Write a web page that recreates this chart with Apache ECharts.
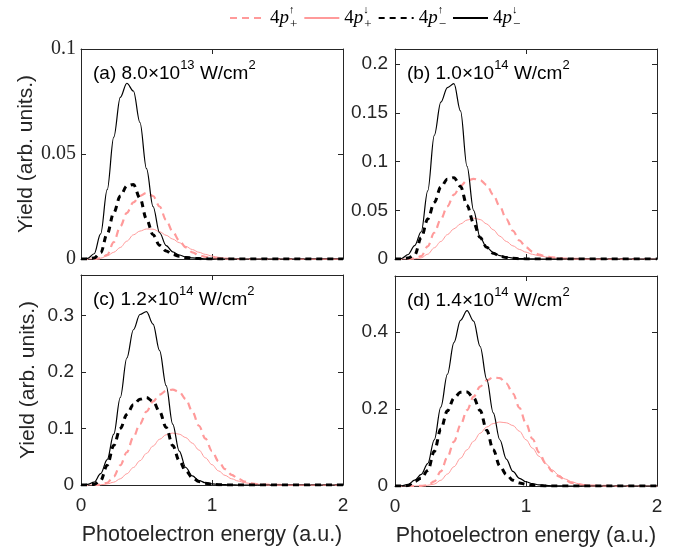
<!DOCTYPE html>
<html>
<head>
<meta charset="utf-8">
<script src="https://cdn.jsdelivr.net/npm/echarts@6/dist/echarts.min.js"></script>
<style>
  html, body { margin: 0; padding: 0; background: #fff; }
  #chart { width: 682px; height: 552px; }
</style>
</head>
<body>
<div id="chart"></div>
<script>
// photoelectron energy grid (a.u.)
const energy = [
  0, 0.05, 0.1, 0.15, 0.2, 0.25, 0.3, 0.35, 0.4, 0.45,
  0.5, 0.55, 0.6, 0.65, 0.7, 0.75, 0.8, 0.85, 0.9, 0.95,
  1.0, 1.05, 1.1, 1.15, 1.2, 1.25, 1.3, 1.35, 1.4, 1.45,
  1.5, 1.55, 1.6, 1.65, 1.7, 1.75, 1.8, 1.85, 1.9, 1.95,
  2.0
];

// (a) 8.0e13 W/cm2
const aUpPlus = [
  0, 0, 0, 0.0003, 0.002, 0.008, 0.0155, 0.022, 0.027, 0.030,
  0.0315, 0.030, 0.025, 0.0185, 0.013, 0.0088, 0.0055, 0.0032, 0.0018, 0.001,
  0.0005, 0.0003, 0.0001, 0, 0, 0, 0, 0, 0, 0,
  0, 0, 0, 0, 0, 0, 0, 0, 0, 0,
  0
];
const aDownPlus = [
  0, 0, 0.0001, 0.0004, 0.0015, 0.0032, 0.0055, 0.0085, 0.0115, 0.0133,
  0.0143, 0.0142, 0.013, 0.0113, 0.0095, 0.0078, 0.006, 0.0045, 0.0032, 0.0022,
  0.0014, 0.0008, 0.0004, 0.0002, 0.0001, 0, 0, 0, 0, 0,
  0, 0, 0, 0, 0, 0, 0, 0, 0, 0,
  0
];
const aUpMinus = [
  0, 0, 0.0005, 0.003, 0.012, 0.022, 0.030, 0.0348, 0.0355, 0.029,
  0.019, 0.0115, 0.0065, 0.0038, 0.0022, 0.0013, 0.0007, 0.0004, 0.0002, 0.0001,
  0, 0, 0, 0, 0, 0, 0, 0, 0, 0,
  0, 0, 0, 0, 0, 0, 0, 0, 0, 0,
  0
];
const aDownMinus = [
  0, 0.0003, 0.0025, 0.012, 0.033, 0.058, 0.077, 0.0837, 0.080, 0.065,
  0.043, 0.025, 0.0125, 0.0064, 0.0034, 0.0019, 0.001, 0.0005, 0.0003, 0.0001,
  0, 0, 0, 0, 0, 0, 0, 0, 0, 0,
  0, 0, 0, 0, 0, 0, 0, 0, 0, 0,
  0
];

// (b) 1.0e14 W/cm2
const bUpPlus = [
  0, 0, 0, 0.0005, 0.003, 0.013, 0.027, 0.041, 0.054, 0.066,
  0.075, 0.0805, 0.0823, 0.081, 0.076, 0.066, 0.054, 0.041, 0.029, 0.019,
  0.012, 0.0075, 0.0045, 0.0028, 0.0017, 0.001, 0.0005, 0.0002, 0.0001, 0,
  0, 0, 0, 0, 0, 0, 0, 0, 0, 0,
  0
];
const bDownPlus = [
  0, 0, 0, 0.0002, 0.0012, 0.005, 0.0115, 0.018, 0.025, 0.031,
  0.036, 0.040, 0.042, 0.0405, 0.036, 0.030, 0.0235, 0.018, 0.0135, 0.0098,
  0.007, 0.0048, 0.0033, 0.0021, 0.0013, 0.0008, 0.0004, 0.0002, 0.0001, 0,
  0, 0, 0, 0, 0, 0, 0, 0, 0, 0,
  0
];
const bUpMinus = [
  0, 0, 0.001, 0.004, 0.022, 0.041, 0.058, 0.0738, 0.082, 0.0835,
  0.0745, 0.055, 0.037, 0.022, 0.012, 0.006, 0.003, 0.0015, 0.0007, 0.0003,
  0.0001, 0, 0, 0, 0, 0, 0, 0, 0, 0,
  0, 0, 0, 0, 0, 0, 0, 0, 0, 0,
  0
];
const bDownMinus = [
  0, 0.0005, 0.0046, 0.0138, 0.028, 0.07, 0.127, 0.161, 0.176, 0.180,
  0.152, 0.095, 0.050, 0.022, 0.012, 0.0065, 0.0035, 0.002, 0.001, 0.0005,
  0.0002, 0.0001, 0, 0, 0, 0, 0, 0, 0, 0,
  0, 0, 0, 0, 0, 0, 0, 0, 0, 0,
  0
];

// (c) 1.2e14 W/cm2
const cUpPlus = [
  0, 0, 0, 0.0005, 0.004, 0.015, 0.035, 0.058, 0.085, 0.108,
  0.13, 0.148, 0.160, 0.167, 0.169, 0.165, 0.152, 0.130, 0.105, 0.082,
  0.060, 0.042, 0.028, 0.018, 0.011, 0.006, 0.003, 0.0015, 0.0007, 0.0003,
  0.0001, 0, 0, 0, 0, 0, 0, 0, 0, 0,
  0
];
const cDownPlus = [
  0, 0, 0, 0.0003, 0.002, 0.005, 0.011, 0.02, 0.031, 0.043,
  0.056, 0.069, 0.081, 0.089, 0.092, 0.090, 0.084, 0.074, 0.062, 0.048,
  0.036, 0.025, 0.017, 0.011, 0.007, 0.004, 0.0025, 0.0015, 0.0008, 0.0004,
  0.0002, 0.0001, 0, 0, 0, 0, 0, 0, 0, 0,
  0
];
const cUpMinus = [
  0, 0, 0.001, 0.008, 0.035, 0.07, 0.10, 0.125, 0.142, 0.152,
  0.155, 0.148, 0.13, 0.102, 0.07, 0.043, 0.025, 0.013, 0.006, 0.003,
  0.0012, 0.0005, 0.0002, 0, 0, 0, 0, 0, 0, 0,
  0, 0, 0, 0, 0, 0, 0, 0, 0, 0,
  0
];
const cDownMinus = [
  0, 0.001, 0.005, 0.02, 0.045, 0.09, 0.155, 0.225, 0.275, 0.302,
  0.307, 0.285, 0.238, 0.176, 0.108, 0.06, 0.031, 0.016, 0.008, 0.004,
  0.002, 0.001, 0.0005, 0.0002, 0, 0, 0, 0, 0, 0,
  0, 0, 0, 0, 0, 0, 0, 0, 0, 0,
  0
];

// (d) 1.4e14 W/cm2
const dUpPlus = [
  0, 0, 0, 0, 0.0005, 0.002, 0.012, 0.038, 0.075, 0.115,
  0.158, 0.197, 0.232, 0.258, 0.274, 0.282, 0.28, 0.266, 0.24, 0.203,
  0.162, 0.122, 0.087, 0.059, 0.038, 0.025, 0.015, 0.008, 0.004, 0.002,
  0.001, 0.0005, 0.0002, 0, 0, 0, 0, 0, 0, 0,
  0
];
const dDownPlus = [
  0, 0, 0, 0, 0.0005, 0.002, 0.005, 0.015, 0.031, 0.05,
  0.072, 0.094, 0.116, 0.137, 0.153, 0.162, 0.166, 0.164, 0.157, 0.142,
  0.12, 0.098, 0.077, 0.058, 0.042, 0.028, 0.018, 0.011, 0.006, 0.003,
  0.0015, 0.0007, 0.0003, 0, 0, 0, 0, 0, 0, 0,
  0
];
const dUpMinus = [
  0, 0, 0.001, 0.012, 0.02, 0.04, 0.09, 0.148, 0.195, 0.228,
  0.243, 0.244, 0.229, 0.196, 0.145, 0.094, 0.052, 0.03, 0.015, 0.008,
  0.004, 0.002, 0.001, 0, 0, 0, 0, 0, 0, 0,
  0, 0, 0, 0, 0, 0, 0, 0, 0, 0,
  0
];
const dDownMinus = [
  0, 0.0005, 0.004, 0.015, 0.03, 0.058, 0.12, 0.205, 0.29, 0.372,
  0.43, 0.455, 0.428, 0.362, 0.277, 0.19, 0.12, 0.07, 0.038, 0.02,
  0.011, 0.006, 0.003, 0.0015, 0.0007, 0.0003, 0, 0, 0, 0,
  0, 0, 0, 0, 0, 0, 0, 0, 0, 0,
  0
];

const panelLabels = ["(a) 8.0×10", "(b) 1.0×10", "(c) 1.2×10", "(d) 1.4×10"];
const panelExponents = ["13", "14", "14", "14"];
const yMax = [0.1, 0.2156, 0.372, 0.545];
const yStep = [0.05, 0.05, 0.1, 0.2];

const seriesNames = ["upPlus", "downPlus", "upMinus", "downMinus"];
const panelData = [
  [aUpPlus, aDownPlus, aUpMinus, aDownMinus],
  [bUpPlus, bDownPlus, bUpMinus, bDownMinus],
  [cUpPlus, cDownPlus, cUpMinus, cDownMinus],
  [dUpPlus, dDownPlus, dUpMinus, dDownMinus]
];

const PINK = "#ff9a9a";
const INK = "#262626";
const SANS = "Liberation Sans";
const SERIF = "Liberation Serif";

// line look per curve
const lineStyles = {
  upPlus: { color: PINK, width: 2.2, type: [7, 5] },
  downPlus: { color: PINK, width: 1 },
  upMinus: { color: "#000", width: 3, type: [6, 5] },
  downMinus: { color: "#000", width: 1.2 }
};

const grids = [
  { left: 81, top: 49, width: 262, height: 210 },
  { left: 395, top: 49, width: 262, height: 210 },
  { left: 81, top: 275, width: 262, height: 210 },
  { left: 395, top: 276, width: 262, height: 210 }
];

const xAxes = [];
const yAxes = [];
const series = [];
const graphics = [];

grids.forEach((g, i) => {
  const bottomRow = i >= 2;
  const leftCol = i % 2 === 0;
  // bottom x axis
  xAxes.push({
    gridIndex: i, type: "value", min: 0, max: 2, interval: 1, position: "bottom",
    name: bottomRow ? "Photoelectron energy (a.u.)" : "",
    nameLocation: "middle", nameGap: 39,
    nameTextStyle: { fontFamily: SANS, fontSize: 21.5, color: INK },
    axisLine: { show: true, onZero: false, lineStyle: { color: INK, width: 1 } },
    axisTick: { show: true, inside: true, length: 5, lineStyle: { color: INK } },
    axisLabel: { show: bottomRow, fontFamily: SANS, fontSize: 19, color: INK, margin: 11 },
    splitLine: { show: false }
  });
  // top x axis (box)
  xAxes.push({
    gridIndex: i, type: "value", min: 0, max: 2, interval: 1, position: "top",
    axisLine: { show: true, onZero: false, lineStyle: { color: INK, width: 1 } },
    axisTick: { show: true, inside: true, length: 5, lineStyle: { color: INK } },
    axisLabel: { show: false },
    splitLine: { show: false }
  });
  // left y axis
  yAxes.push({
    gridIndex: i, type: "value", min: 0, max: yMax[i], interval: yStep[i], position: "left",
    name: leftCol ? "Yield (arb. units.)" : "",
    nameLocation: "middle", nameGap: 42, nameRotate: 90,
    nameTextStyle: { fontFamily: SANS, fontSize: 21, color: INK },
    axisLine: { show: true, onZero: false, lineStyle: { color: INK, width: 1 } },
    axisTick: { show: true, inside: true, length: 5, lineStyle: { color: INK } },
    axisLabel: {
      fontFamily: i === 0 ? SERIF : SANS, fontSize: i === 0 ? 20 : 19, color: INK,
      margin: i === 0 ? 5 : 7,
      showMaxLabel: i === 0
    },
    splitLine: { show: false }
  });
  // right y axis (box)
  yAxes.push({
    gridIndex: i, type: "value", min: 0, max: yMax[i], interval: yStep[i], position: "right",
    axisLine: { show: true, onZero: false, lineStyle: { color: INK, width: 1 } },
    axisTick: { show: true, inside: true, length: 5, lineStyle: { color: INK } },
    axisLabel: { show: false },
    splitLine: { show: false }
  });

  panelData[i].forEach((vals, k) => {
    const name = seriesNames[k];
    series.push({
      name: name, type: "line",
      xAxisIndex: 2 * i, yAxisIndex: 2 * i,
      data: energy.map((e, j) => [e, vals[j]]),
      symbol: "none", smooth: 0.35, smoothMonotone: "x",
      lineStyle: lineStyles[name],
      itemStyle: { color: lineStyles[name].color },
      z: 3 + k
    });
  });

  graphics.push({
    type: "text",
    left: g.left + 12, top: g.top + 10,
    style: {
      text: "{m|" + panelLabels[i] + "}{s|" + panelExponents[i] + "}{m| W/cm}{s|2}",
      rich: {
        m: { fontFamily: SANS, fontSize: 19, fill: "#000", lineHeight: 24, verticalAlign: "bottom" },
        s: { fontFamily: SANS, fontSize: 13, fill: "#000", lineHeight: 13, verticalAlign: "top" }
      }
    }
  });
});

const legendText = {
  upPlus: "{n|4}{p|p}{u|↑}{d|+}",
  downPlus: "{n|4}{p|p}{u|↓}{d|+}",
  upMinus: "{n|4}{p|p}{u|↑}{d|−}",
  downMinus: "{n|4}{p|p}{u|↓}{d|−}"
};

const chart = echarts.init(document.getElementById("chart"), null, { renderer: "canvas" });
chart.setOption({
  backgroundColor: "#fff",
  animation: false,
  legend: {
    data: seriesNames,
    top: 0, left: 224,
    itemWidth: 35, itemHeight: 1, itemGap: 6,
    itemStyle: { opacity: 0 },
    formatter: name => legendText[name],
    textStyle: {
      rich: {
        n: { fontFamily: SERIF, fontSize: 19, color: "#000", lineHeight: 26 },
        p: { fontFamily: SERIF, fontStyle: "italic", fontSize: 19, color: "#000", lineHeight: 26 },
        u: { fontFamily: SERIF, fontSize: 11, color: "#000", lineHeight: 13, verticalAlign: "top", width: 1 },
        d: { fontFamily: SERIF, fontSize: 13, color: "#000", lineHeight: 13, verticalAlign: "bottom" }
      }
    }
  },
  grid: grids,
  xAxis: xAxes,
  yAxis: yAxes,
  series: series,
  graphic: graphics
});
</script>
</body>
</html>
